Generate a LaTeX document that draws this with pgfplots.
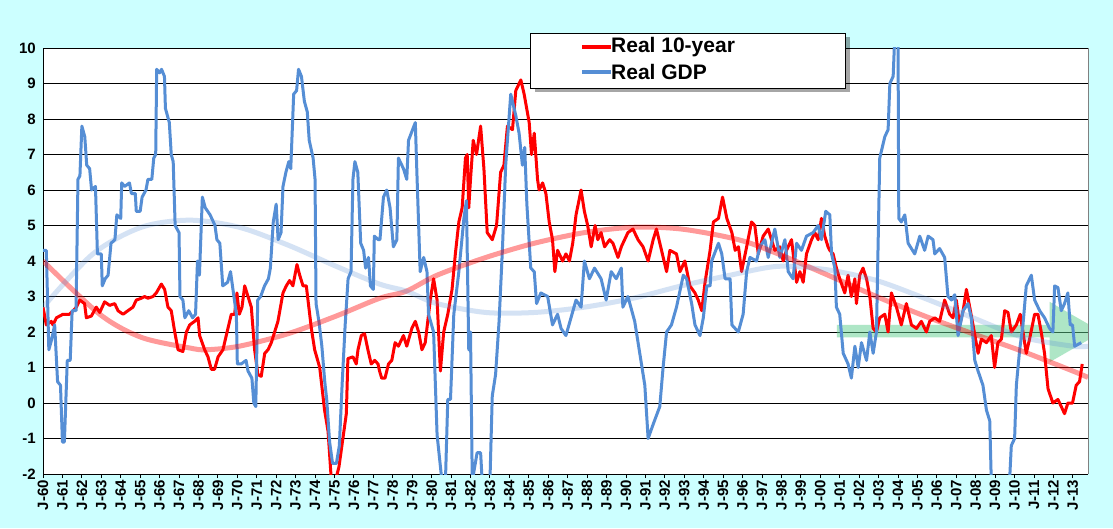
\documentclass[border=0pt]{standalone}
\usepackage{pgfplots}
\pgfplotsset{compat=1.18}
\usepackage{fontspec}
\setmainfont{Liberation Sans}
\usetikzlibrary{shadows}
\definecolor{bg}{HTML}{CCFFFF}
\definecolor{gdp}{HTML}{558ED5}
\definecolor{grn}{HTML}{5FCF8F}
\begin{document}
\begin{tikzpicture}[x=1pt,y=1pt]
\fill[bg] (0,0) rectangle (1113,528);
\begin{axis}[at={(43pt,54pt)}, anchor=south west, scale only axis,
  width=1045pt, height=426pt,
  xmin=1960, xmax=2013.78, ymin=-2, ymax=10,
  axis background/.style={fill=white},
  axis x line*=bottom, axis y line*=left,
  axis line style={black, line width=0.8pt},
  ytick={-2,...,10}, ymajorgrids, grid style={black, line width=0.8pt},
  xtick={1960,...,2013},
  xticklabels={J-60,J-61,J-62,J-63,J-64,J-65,J-66,J-67,J-68,J-69,J-70,J-71,J-72,J-73,J-74,J-75,J-76,J-77,J-78,J-79,J-80,J-81,J-82,J-83,J-84,J-85,J-86,J-87,J-88,J-89,J-90,J-91,J-92,J-93,J-94,J-95,J-96,J-97,J-98,J-99,J-00,J-01,J-02,J-03,J-04,J-05,J-06,J-07,J-08,J-09,J-10,J-11,J-12,J-13},
  x tick label style={rotate=90, anchor=east, font=\bfseries\fontsize{15}{16}\selectfont, inner sep=2pt},
  y tick label style={font=\bfseries\fontsize{15}{16}\selectfont, inner sep=3pt},
  /pgf/number format/assume math mode=true,
  tick align=outside, major tick length=4pt, tick style={black, line width=0.8pt},
  ytick style={draw=none},
  clip=true,
]
% green arrow
\fill[grn, opacity=0.5] (axis cs:2000.85,1.85) -- (axis cs:2011.8,1.85) -- (axis cs:2011.8,1.15) -- (axis cs:2014.5,2.0) -- (axis cs:2011.8,2.85) -- (axis cs:2011.8,2.2) -- (axis cs:2000.85,2.2) -- cycle;
\addplot[red, line width=3pt, line join=round] coordinates {
(1960.00,2.7)(1960.17,2.2)(1960.43,2.3)(1960.51,2.2)(1960.69,2.4)(1961.03,2.5)(1961.37,2.5)(1961.72,2.7)(1961.89,2.9)(1962.14,2.8)(1962.23,2.4)(1962.49,2.45)(1962.74,2.7)(1962.92,2.55)(1963.17,2.85)(1963.43,2.75)(1963.69,2.8)(1963.86,2.6)(1964.12,2.5)(1964.37,2.6)(1964.63,2.7)(1964.80,2.9)(1965.06,2.95)(1965.23,3.0)(1965.40,2.95)(1965.66,3.0)(1965.83,3.1)(1966.09,3.35)(1966.26,3.2)(1966.43,2.7)(1966.60,2.6)(1966.78,2.0)(1966.95,1.5)(1967.20,1.45)(1967.38,2.0)(1967.55,2.2)(1967.80,2.3)(1967.98,2.4)(1968.06,1.9)(1968.32,1.5)(1968.49,1.3)(1968.66,0.95)(1968.83,0.95)(1969.01,1.3)(1969.26,1.5)(1969.43,1.9)(1969.69,2.5)(1969.86,2.5)(1969.98,3.1)(1970.10,2.5)(1970.24,2.7)(1970.38,3.3)(1970.55,3.0)(1970.72,2.7)(1970.89,1.5)(1971.06,0.8)(1971.23,0.75)(1971.41,1.4)(1971.58,1.5)(1971.75,1.7)(1971.92,2.0)(1972.09,2.3)(1972.35,3.1)(1972.52,3.3)(1972.69,3.45)(1972.86,3.3)(1973.07,3.9)(1973.21,3.6)(1973.38,3.3)(1973.55,3.3)(1973.81,2.1)(1973.98,1.5)(1974.24,1.0)(1974.49,-0.2)(1974.67,-0.8)(1974.84,-2.2)(1975.09,-2.1)(1975.23,-1.8)(1975.61,-0.3)(1975.69,1.25)(1975.95,1.3)(1976.12,1.1)(1976.21,1.5)(1976.38,1.9)(1976.55,1.95)(1976.72,1.5)(1976.89,1.1)(1977.07,1.2)(1977.24,1.1)(1977.32,0.9)
(1977.43,0.7)(1977.60,0.7)(1977.78,1.1)(1977.95,1.2)(1978.12,1.7)(1978.29,1.6)(1978.55,1.9)(1978.72,1.6)(1978.98,2.1)(1979.16,2.3)(1979.33,2.0)(1979.50,1.5)(1979.67,1.7)(1979.93,2.9)(1980.10,3.5)(1980.28,2.9)(1980.45,0.9)(1980.62,2.0)(1980.83,2.5)(1981.05,3.2)(1981.22,4.2)(1981.40,5.1)(1981.57,5.5)(1981.74,6.9)(1981.83,7.0)(1981.91,5.5)(1982.00,6.3)(1982.14,7.4)(1982.31,7.0)(1982.52,7.8)(1982.69,6.6)(1982.86,4.8)(1983.12,4.6)(1983.34,5.0)(1983.55,6.5)(1983.72,6.7)(1983.90,7.8)(1984.16,7.7)(1984.33,8.8)(1984.59,9.1)(1984.76,8.7)(1985.02,7.9)(1985.14,7.0)(1985.28,7.6)(1985.45,6.3)(1985.53,6.0)(1985.71,6.2)(1985.88,5.9)(1986.05,5.1)(1986.22,4.6)(1986.34,3.7)(1986.48,4.3)(1986.74,4.0)(1986.91,4.2)(1987.09,4.0)(1987.26,4.5)(1987.43,5.3)(1987.69,6.0)(1987.86,5.4)(1988.03,5.0)(1988.21,4.4)(1988.41,5.0)(1988.55,4.6)(1988.72,4.8)(1988.90,4.4)(1989.16,4.6)(1989.33,4.5)(1989.59,4.1)(1989.76,4.4)(1990.10,4.8)(1990.36,4.9)(1990.62,4.6)(1990.88,4.4)(1991.14,4.0)(1991.40,4.6)(1991.57,4.9)(1991.83,4.3)(1992.09,3.7)(1992.26,4.3)(1992.60,4.2)(1992.78,3.7)(1993.03,4.0)(1993.29,3.3)(1993.55,3.1)(1993.72,2.9)(1993.90,2.6)(1994.07,3.4)(1994.33,4.3)(1994.50,5.1)(1994.76,5.2)(1994.97,5.8)(1995.19,5.2)(1995.45,4.8)(1995.62,4.3)(1995.79,4.4)
(1995.95,3.7)(1996.21,4.4)(1996.46,5.1)(1996.63,5.0)(1996.81,4.2)(1997.06,4.7)(1997.32,4.9)(1997.49,4.6)(1997.66,4.3)(1997.92,4.4)(1998.09,4.0)(1998.26,4.3)(1998.52,4.6)(1998.78,3.4)(1998.95,3.7)(1999.12,3.4)(1999.29,4.2)(1999.55,4.6)(1999.72,4.8)(1999.89,4.6)(2000.06,5.2)(2000.23,4.7)(2000.40,4.4)(2000.49,4.3)(2000.66,4.2)(2000.83,3.8)(2001.00,3.5)(2001.26,3.1)(2001.43,3.6)(2001.60,3.0)(2001.78,3.5)(2001.86,2.8)(2002.03,3.6)(2002.20,3.8)(2002.38,3.5)(2002.55,3.0)(2002.72,2.1)(2002.89,2.0)(2003.06,2.4)(2003.32,2.5)(2003.49,2.0)(2003.66,3.1)(2003.92,2.7)(2004.17,2.2)(2004.43,2.8)(2004.69,2.2)(2004.95,2.1)(2005.20,2.3)(2005.46,2.0)(2005.63,2.3)(2005.89,2.4)(2006.14,2.3)(2006.40,2.9)(2006.66,2.5)(2006.83,2.4)(2007.00,2.9)(2007.17,2.2)(2007.35,2.6)(2007.52,3.2)(2007.69,2.7)(2007.86,2.2)(2008.12,1.4)(2008.29,1.8)(2008.55,1.7)(2008.80,1.9)(2008.97,1.0)(2009.14,1.7)(2009.32,1.8)(2009.49,2.6)(2009.66,2.55)(2009.83,2.0)(2010.09,2.2)(2010.29,2.5)(2010.43,2.0)(2010.60,1.4)(2010.77,1.8)(2011.03,2.5)(2011.20,2.5)(2011.37,2.0)(2011.54,1.4)(2011.72,0.4)(2011.97,0.0)(2012.23,0.1)(2012.40,-0.1)(2012.57,-0.3)(2012.74,0.0)(2012.98,0.0)(2013.17,0.5)(2013.34,0.6)(2013.48,1.1)
};
\addplot[gdp, line width=3pt, line join=round] coordinates {
(1960.00,4.3)(1960.17,4.3)(1960.30,1.5)(1960.45,1.8)(1960.60,2.2)(1960.75,0.6)(1960.90,0.5)(1961.00,-1.1)(1961.10,-1.1)(1961.25,1.2)(1961.40,1.2)(1961.50,2.6)(1961.70,2.6)(1961.80,6.3)(1961.90,6.4)(1962.00,7.8)(1962.15,7.5)(1962.25,6.7)(1962.40,6.6)(1962.50,6.0)(1962.70,6.1)(1962.80,4.2)(1963.00,4.2)(1963.05,3.3)(1963.20,3.5)(1963.35,3.6)(1963.50,4.5)(1963.70,4.6)(1963.80,5.3)(1964.00,5.2)(1964.05,6.2)(1964.20,6.1)(1964.45,6.2)(1964.55,5.9)(1964.75,5.9)(1964.80,5.4)(1965.00,5.4)(1965.10,5.8)(1965.30,6.0)(1965.40,6.3)(1965.60,6.3)(1965.70,6.9)(1965.80,7.0)(1965.85,9.4)(1966.00,9.3)(1966.10,9.4)(1966.25,9.2)(1966.30,8.3)(1966.50,7.9)(1966.60,7.0)(1966.70,6.8)(1966.80,5.0)(1967.00,4.8)(1967.05,3.0)(1967.20,2.9)(1967.30,2.4)(1967.50,2.6)(1967.70,2.4)(1967.85,2.5)(1967.95,4.0)(1968.05,3.6)(1968.20,5.8)(1968.35,5.5)(1968.60,5.3)(1968.85,5.0)(1968.95,4.6)(1969.10,4.5)(1969.25,3.3)(1969.50,3.4)(1969.65,3.7)(1969.75,3.3)(1969.95,2.5)(1970.00,1.1)(1970.20,1.1)(1970.45,1.2)(1970.55,0.9)(1970.75,0.7)(1970.85,0.0)(1970.95,-0.1)(1971.05,2.9)(1971.20,3.0)(1971.40,3.3)(1971.60,3.5)(1971.70,3.8)(1971.85,5.1)(1972.00,5.6)(1972.10,4.6)(1972.25,4.8)(1972.35,6.1)(1972.50,6.5)(1972.65,6.8)(1972.75,6.6)(1972.90,8.7)(1973.05,8.8)(1973.15,9.4)(1973.30,9.2)(1973.45,8.5)(1973.60,8.2)(1973.70,7.4)(1973.90,6.9)(1974.00,6.3)(1974.05,2.8)(1974.20,2.3)(1974.35,1.6)(1974.50,0.6)(1974.60,0.1)(1974.75,-1.1)(1974.90,-1.7)(1975.10,-1.7)(1975.25,-1.2)(1975.40,0.6)(1975.55,2.2)(1975.70,3.5)(1975.85,3.7)(1975.95,6.3)(1976.05,6.8)(1976.20,6.5)(1976.35,4.5)(1976.50,4.3)(1976.60,3.8)(1976.75,4.1)(1976.85,3.3)(1977.00,3.2)(1977.05,4.7)
(1977.26,4.6)(1977.34,4.6)(1977.52,5.8)(1977.69,6.0)(1977.86,5.5)(1978.03,4.4)(1978.21,4.6)(1978.29,6.9)(1978.55,6.6)(1978.72,6.3)(1978.81,7.4)(1979.16,7.9)(1979.24,6.5)(1979.41,3.7)(1979.59,4.1)(1979.76,3.7)(1979.84,2.5)(1980.10,2.0)(1980.28,-0.9)(1980.53,-2.2)(1980.71,-2.2)(1980.83,0.1)(1980.97,0.1)(1981.14,2.5)(1981.40,3.7)(1981.66,5.2)(1981.79,5.7)(1981.91,1.5)(1982.00,2.0)(1982.09,-2.2)(1982.34,-1.4)(1982.52,-1.4)(1982.60,-2.2)(1983.00,-2.2)(1983.12,0.2)(1983.29,0.8)(1983.47,2.3)(1983.64,4.3)(1983.81,6.7)(1984.07,8.7)(1984.33,8.1)(1984.50,7.6)(1984.67,6.7)(1984.79,7.2)(1984.90,5.6)(1985.10,3.8)(1985.28,3.7)(1985.40,2.8)(1985.62,3.1)(1985.97,3.0)(1986.22,2.2)(1986.48,2.5)(1986.66,2.1)(1986.91,1.9)(1987.17,2.4)(1987.43,2.9)(1987.69,2.7)(1987.86,4.0)(1988.12,3.5)(1988.38,3.8)(1988.72,3.5)(1988.98,2.9)(1989.24,3.7)(1989.50,3.5)(1989.76,3.8)(1989.84,2.7)(1990.10,3.0)(1990.45,2.3)(1990.71,1.4)(1990.97,0.5)(1991.14,-1.0)(1991.40,-0.6)(1991.74,-0.1)(1991.91,1.0)(1992.09,2.0)(1992.34,2.2)(1992.60,2.7)(1992.95,3.6)(1993.12,3.5)(1993.38,2.8)(1993.55,2.2)(1993.81,1.9)(1993.98,2.4)(1994.16,3.3)(1994.33,3.3)(1994.41,4.0)(1994.76,4.5)(1994.93,4.2)(1995.10,3.5)(1995.36,3.5)(1995.45,2.2)
(1995.78,2.0)(1996.03,2.5)(1996.21,3.7)(1996.38,4.1)(1996.72,4.0)(1996.89,4.4)(1997.15,4.6)(1997.32,4.1)(1997.66,4.9)(1997.92,4.1)(1998.18,4.6)(1998.35,3.7)(1998.60,3.5)(1998.78,4.5)(1999.03,4.3)(1999.29,4.7)(1999.63,4.8)(1999.89,5.0)(2000.06,4.6)(2000.28,5.4)(2000.49,5.3)(2000.58,4.2)(2000.75,3.8)(2000.83,2.7)(2001.00,2.5)(2001.18,1.4)(2001.43,1.1)(2001.60,0.7)(2001.78,1.6)(2001.95,1.0)(2002.12,1.7)(2002.38,1.2)(2002.55,2.0)(2002.72,1.4)(2002.89,2.0)(2003.06,6.9)(2003.32,7.5)(2003.49,7.7)(2003.58,9.0)(2003.75,9.2)(2003.83,10.3)(2004.00,10.3)(2004.04,5.2)(2004.17,5.1)(2004.35,5.3)(2004.52,4.5)(2004.86,4.2)(2005.12,4.7)(2005.37,4.3)(2005.55,4.7)(2005.80,4.6)(2005.89,4.2)(2006.14,4.35)(2006.40,4.1)(2006.57,3.0)(2006.75,2.9)(2006.92,3.05)(2007.09,1.9)(2007.35,2.6)(2007.60,2.8)(2007.77,2.4)(2007.95,1.2)(2008.12,0.9)(2008.37,0.5)(2008.55,-0.2)(2008.72,-0.5)(2008.80,-2.2)(2009.74,-2.2)(2009.83,-1.2)(2010.00,-1.0)(2010.09,0.5)(2010.26,1.5)(2010.43,2.2)(2010.60,3.3)(2010.86,3.6)(2011.03,2.9)(2011.29,2.6)(2011.54,2.4)(2011.80,2.1)(2011.97,2.0)(2012.06,3.3)(2012.23,3.25)(2012.40,2.6)(2012.57,2.8)(2012.74,3.1)(2012.86,2.2)(2012.98,2.2)(2013.09,1.6)(2013.43,1.7)
};
% trend curves
\addplot[red, opacity=0.4, line width=5pt, smooth] coordinates {
(1960.00,4.0)(1962.92,2.5)(1965.06,1.85)(1967.55,1.55)(1968.40,1.5)(1970.10,1.6)(1972.60,1.95)(1975.09,2.45)(1977.32,2.95)(1978.70,3.15)(1980.28,3.6)(1982.79,4.1)(1985.28,4.5)(1987.86,4.8)(1990.36,4.95)(1992.86,4.9)(1995.79,4.6)(1997.83,4.2)(2000.40,3.6)(2002.89,3.0)(2005.37,2.45)(2007.86,1.95)(2010.43,1.45)(2013.00,0.9)(2013.78,0.72)};
\addplot[gdp, opacity=0.25, line width=5pt, smooth] coordinates {
(1960.00,2.7)(1962.57,4.2)(1965.06,4.95)(1967.55,5.15)(1970.10,4.95)(1972.60,4.45)(1975.09,3.85)(1977.32,3.35)(1978.70,3.15)(1980.28,2.8)(1982.79,2.55)(1985.28,2.55)(1987.86,2.7)(1990.36,2.95)(1992.86,3.3)(1995.36,3.6)(1997.83,3.85)(2000.40,3.75)(2002.89,3.45)(2005.37,2.95)(2007.86,2.4)(2010.43,1.85)(2013.00,1.6)(2013.78,1.6)};
\end{axis}
\draw[gray, line width=0.8pt] (1088,54) -- (1088,480);
% legend
\fill[black, opacity=0.35] (535,436) rectangle (850,491);
\filldraw[fill=white, draw=black, line width=0.8pt] (530,440) rectangle (845,495);
\draw[red, line width=3.5pt] (582,481) -- (611,481);
\draw[gdp, line width=3.5pt] (582,456) -- (611,456);
\node[anchor=west, inner sep=0pt, font=\bfseries\fontsize{21}{23}\selectfont] at (611,481) {Real 10-year};
\node[anchor=west, inner sep=0pt, font=\bfseries\fontsize{21}{23}\selectfont] at (611,456) {Real GDP};
\end{tikzpicture}
\end{document}
